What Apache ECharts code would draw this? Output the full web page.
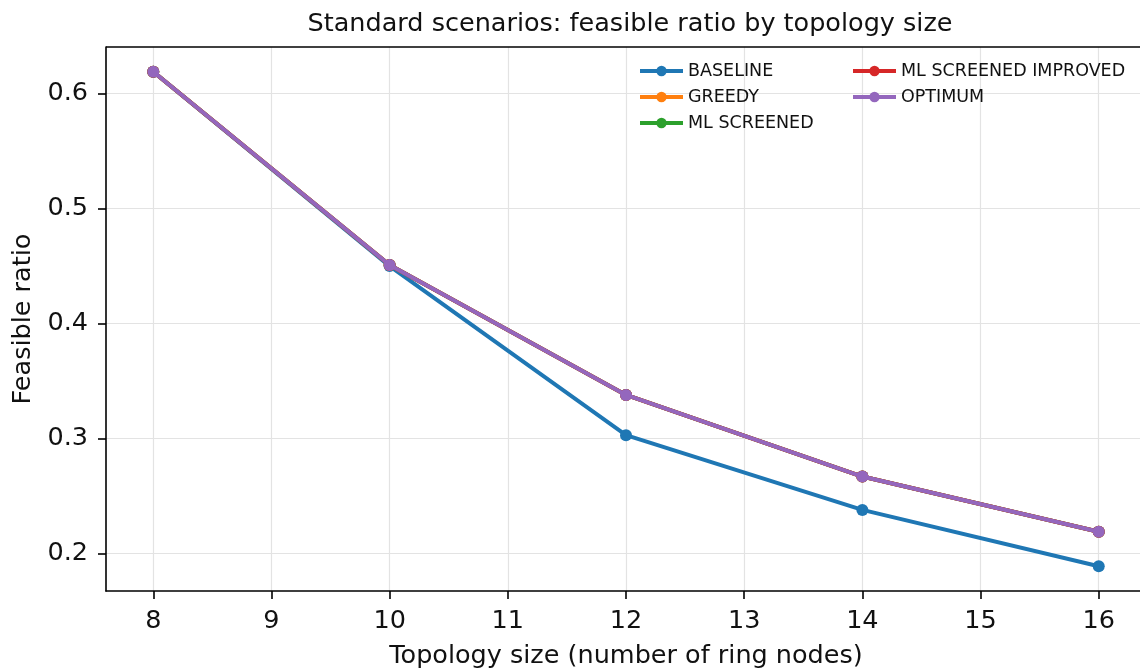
<!DOCTYPE html>
<html>
<head>
<meta charset="utf-8">
<script src="https://cdn.jsdelivr.net/npm/echarts@6/dist/echarts.min.js"></script>
<style>
html,body{margin:0;padding:0;background:#fff;}
#chart{width:1140px;height:670px;}
</style>
</head>
<body>
<div id="chart"></div>
<script>
const topologySizes = [8, 10, 12, 14, 16];
const baseline = [0.619, 0.450, 0.303, 0.238, 0.189];
const greedy = [0.619, 0.451, 0.338, 0.267, 0.219];
const mlScreened = [0.619, 0.451, 0.338, 0.267, 0.219];
const mlScreenedImproved = [0.619, 0.451, 0.338, 0.267, 0.219];
const optimum = [0.619, 0.451, 0.338, 0.267, 0.219];
const xTicks = [8, 9, 10, 11, 12, 13, 14, 15, 16];
const yTicks = [0.2, 0.3, 0.4, 0.5, 0.6];
const seriesNames = ['BASELINE', 'GREEDY', 'ML SCREENED', 'ML SCREENED IMPROVED', 'OPTIMUM'];
const seriesData = [baseline, greedy, mlScreened, mlScreenedImproved, optimum];
const colors = ['#1f77b4', '#ff7f0e', '#2ca02c', '#d62728', '#9467bd'];

const FONT = 'DejaVu Sans';
const TXT = '#111';
const chart = echarts.init(document.getElementById('chart'), null, {renderer: 'canvas'});

const series = seriesNames.map((name, i) => ({
  name: name,
  type: 'line',
  data: topologySizes.map((x, j) => [x, seriesData[i][j]]),
  symbol: 'circle',
  symbolSize: 12,
  showSymbol: true,
  lineStyle: {width: 4, color: colors[i]},
  itemStyle: {color: colors[i]},
  z: 2 + i,
  animation: false
}));

const legendCommon = {
  orient: 'vertical',
  itemWidth: 43,
  itemHeight: 13,
  itemGap: 8,
  lineStyle: {width: 4},
  textStyle: {fontFamily: FONT, fontSize: 17.5, color: TXT}
};

chart.setOption({
  backgroundColor: '#fff',
  animation: false,
  color: colors,
  title: {
    text: 'Standard scenarios: feasible ratio by topology size',
    left: 625, top: 6, textAlign: 'center',
    textStyle: {fontFamily: FONT, fontSize: 25.5, fontWeight: 'normal', color: TXT}
  },
  legend: [
    Object.assign({}, legendCommon, {data: seriesNames.slice(0, 3), left: 633, top: 57}),
    Object.assign({}, legendCommon, {data: seriesNames.slice(3), left: 846, top: 57})
  ],
  grid: {left: 106, right: -6, top: 47, bottom: 79, containLabel: false, outerBoundsMode: 'none', show: false},
  xAxis: {
    type: 'value',
    min: 7.6, max: 16.4,
    name: 'Topology size (number of ring nodes)',
    nameLocation: 'middle',
    nameGap: 52,
    nameTextStyle: {fontFamily: FONT, fontSize: 25.5, color: TXT},
    axisLine: {show: true, onZero: false, lineStyle: {color: '#000', width: 1.6}},
    axisTick: {show: true, inside: false, length: 8, lineStyle: {color: '#000', width: 1.6}, customValues: xTicks},
    axisLabel: {fontFamily: FONT, fontSize: 25.5, color: TXT, margin: 17, customValues: xTicks, formatter: v => String(v)},
    splitLine: {show: true, lineStyle: {color: '#e3e3e3', width: 1.2}}
  },
  yAxis: {
    type: 'value',
    min: 0.1675, max: 0.6405,
    name: 'Feasible ratio',
    nameLocation: 'middle',
    nameGap: 70,
    nameRotate: 90,
    nameTextStyle: {fontFamily: FONT, fontSize: 25.5, color: TXT},
    axisLine: {show: true, onZero: false, lineStyle: {color: '#000', width: 1.6}},
    axisTick: {show: true, inside: false, length: 8, lineStyle: {color: '#000', width: 1.6}, customValues: yTicks},
    axisLabel: {fontFamily: FONT, fontSize: 25.5, color: TXT, margin: 18, customValues: yTicks, formatter: v => v.toFixed(1)},
    splitLine: {show: true, lineStyle: {color: '#e3e3e3', width: 1.2}}
  },
  series: series
});

// top spine
chart.setOption({
  graphic: [{
    type: 'line', silent: true, z: 10,
    shape: {x1: 106, y1: 47, x2: 1146, y2: 47},
    style: {stroke: '#000', lineWidth: 1.6}
  }]
});
</script>
</body>
</html>
